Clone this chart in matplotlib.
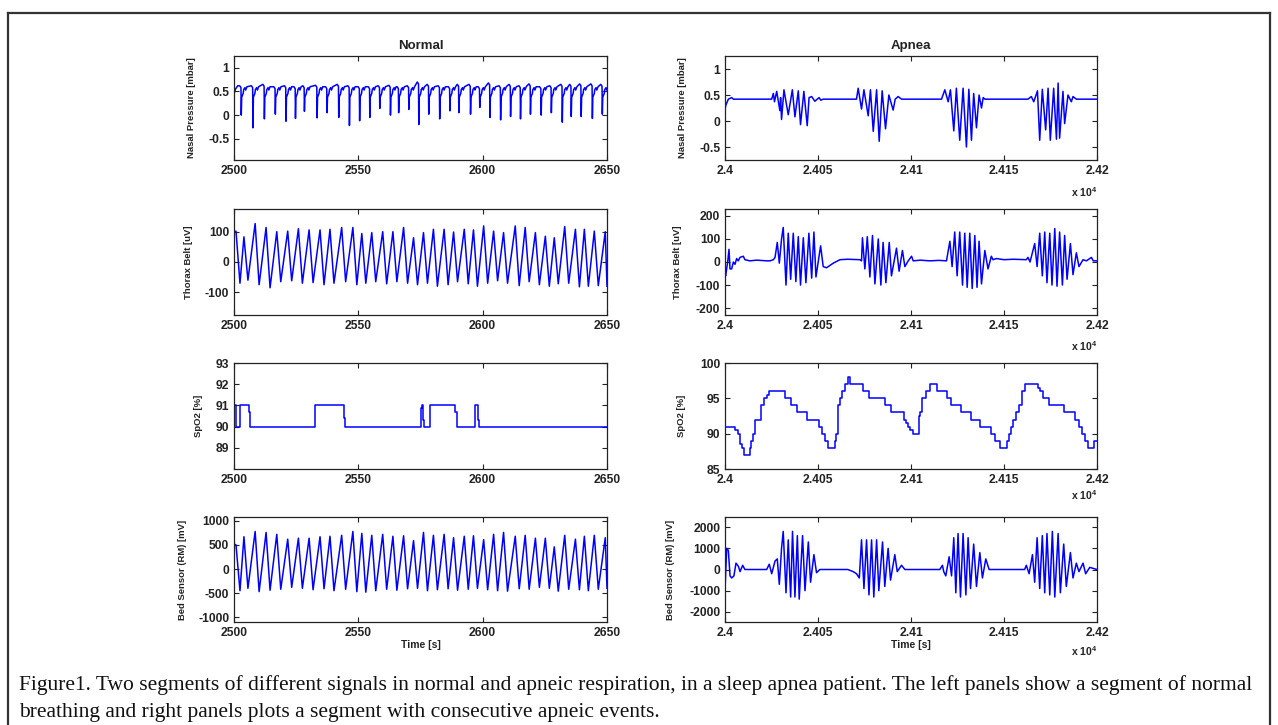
import numpy as np
import matplotlib
matplotlib.use("Agg")
import matplotlib.pyplot as plt
from matplotlib.lines import Line2D

plt.rcParams['axes.unicode_minus'] = False
plt.rcParams['font.family'] = ['Liberation Sans', 'DejaVu Sans']
plt.rcParams['font.weight'] = 'bold'
plt.rcParams['mathtext.default'] = 'regular'

# ---------------- DATA ----------------
col_titles = ["Normal", "Apnea"]
row_ylabels = ["Nasal Pressure [mbar]", "Thorax Belt [uV]", "SpO2 [%]", "Bed Sensor (RM) [mV]"]
xlabel = "Time [s]"
caption_lines = [
    "Figure1. Two segments of different signals in normal and apneic respiration, in a sleep apnea patient. The left panels show a segment of normal",
    "breathing and right panels plots a segment with consecutive apneic events.",
]

normal_xticks = [2500, 2550, 2600, 2650]
normal_xticklabels = ["2500", "2550", "2600", "2650"]
apnea_xticks = [24000, 24050, 24100, 24150, 24200]
apnea_xticklabels = ["2.4", "2.405", "2.41", "2.415", "2.42"]
APNEA_T0 = 24000.0

# --- Normal: nasal pressure (per breath: drop time, trough value, plateau value)
nasal_drop_t = [2502.8, 2507.5, 2512.1, 2516.5, 2520.8, 2524.6, 2528.2, 2533.3, 2537.3, 2542.0,
                2546.3, 2550.4, 2554.5, 2558.5, 2562.8, 2566.1, 2570.2, 2574.2, 2578.2, 2582.6,
                2586.7, 2590.3, 2595.0, 2598.7, 2602.8, 2607.1, 2611.1, 2615.1, 2619.1, 2623.4,
                2627.5, 2631.9, 2635.5, 2639.5, 2644.0, 2648.0]
nasal_trough_v = [0.0, -0.27, -0.08, 0.02, -0.13, -0.07, 0.08, -0.06, 0.05, -0.05,
                  -0.22, -0.12, -0.05, 0.14, 0.0, 0.05, 0.12, -0.2, 0.02, -0.08,
                  0.09, 0.05, 0.02, 0.16, -0.05, -0.1, -0.03, -0.08, 0.02, 0.0,
                  0.05, -0.15, -0.03, -0.03, -0.07, 0.02]
nasal_peak_v = [0.62, 0.62, 0.65, 0.6, 0.62, 0.6, 0.62, 0.63, 0.6, 0.65,
                0.62, 0.6, 0.6, 0.62, 0.63, 0.6, 0.62, 0.7, 0.65, 0.62,
                0.6, 0.65, 0.65, 0.6, 0.68, 0.62, 0.65, 0.62, 0.66, 0.6,
                0.62, 0.65, 0.65, 0.66, 0.66, 0.65]
nasal_start_t = [2500.0, 2500.6, 2501.5]
nasal_start_v = [0.45, 0.55, 0.62]
# within-breath shape (seconds after drop, level)
nasal_cycle_dt = [0.12, 0.3, 0.9, 1.1, 1.6, 1.9, 2.4]
nasal_cycle_v = [None, 0.38, 0.46, 0.54, 0.58, 0.53, 0.60]

# --- Normal: thorax belt and bed sensor share breath timing
normal_peak_t = [2500.8, 2504.0, 2508.5, 2512.9, 2517.2, 2521.6, 2525.9, 2530.2, 2534.6, 2538.6,
                 2543.3, 2547.8, 2551.4, 2555.4, 2559.8, 2563.9, 2568.2, 2572.2, 2576.2, 2580.2,
                 2584.5, 2588.3, 2592.6, 2596.3, 2600.4, 2604.4, 2608.4, 2613.1, 2617.1, 2621.2,
                 2625.2, 2628.8, 2633.0, 2637.3, 2640.9, 2644.9, 2649.3]
normal_trough_t = [2502.4, 2505.6, 2510.1, 2514.5, 2518.8, 2523.2, 2527.5, 2531.8, 2536.2, 2540.2,
                   2544.9, 2549.4, 2553.0, 2557.0, 2561.4, 2565.5, 2569.8, 2573.8, 2577.8, 2581.8,
                   2586.1, 2589.9, 2594.2, 2597.9, 2602.0, 2606.0, 2610.0, 2614.7, 2618.7, 2622.8,
                   2626.8, 2630.4, 2634.6, 2638.9, 2642.5, 2646.5, 2650.0]
thorax_peak_v = [102, 83, 127, 114, 100, 102, 110, 106, 106, 108,
                 114, 114, 94, 97, 100, 100, 114, 80, 97, 108,
                 108, 99, 108, 106, 119, 102, 97, 119, 114, 97,
                 85, 80, 117, 108, 108, 102, 100]
thorax_trough_v = [-70, -60, -75, -85, -65, -62, -70, -68, -75, -70,
                   -65, -75, -70, -65, -72, -65, -70, -75, -70, -80,
                   -75, -65, -72, -80, -70, -62, -70, -78, -65, -75,
                   -80, -72, -70, -82, -80, -78, -80]
bed_peak_v = [500, 670, 780, 760, 720, 620, 640, 640, 670, 680,
              700, 780, 740, 700, 720, 680, 690, 590, 760, 700,
              720, 650, 680, 690, 610, 720, 760, 680, 700, 640,
              640, 460, 700, 620, 680, 700, 650]
bed_trough_v = [-450, -400, -470, -440, -420, -380, -400, -430, -410, -450,
                -420, -470, -480, -450, -420, -440, -410, -400, -450, -430,
                -410, -440, -420, -400, -430, -450, -460, -410, -420, -380,
                -400, -460, -420, -430, -450, -420, -400]
thorax_start_v = 95
bed_start_v = 520

# --- Normal: SpO2 (step change points)
spo2_normal_t = [2500.0, 2500.8, 2502.5, 2506.2, 2506.6, 2532.6, 2544.3, 2544.8, 2575.2, 2575.6,
                 2576.0, 2576.5, 2578.8, 2589.0, 2589.5, 2597.0, 2598.2, 2598.6, 2650.0]
spo2_normal_v = [91, 90, 91, 90.7, 90, 91, 90.4, 90, 90.9, 91,
                 90.3, 90, 91, 90.7, 90, 91, 90.3, 90, 90]

# --- Apnea: nasal pressure (seconds after 24000, value)
nasal_apnea_t = [0, 0.4, 1.8, 3.6, 4.5, 25.1, 26.0, 26.6, 27.8, 29.5, 29.9, 30.4, 31.7, 34.0, 36.2, 37.6,
                 39.4, 40.6, 42.4, 44.2, 45.2, 46.6, 48.3, 50.6, 51.5, 52.8,
                 70.7, 71.6, 73.4, 74.7, 77.0, 78.2, 79.7, 81.5, 82.9, 84.5, 86.3, 88.1, 90.4, 91.5, 93.1, 94.9,
                 116.4, 118.2, 120.0, 121.2, 123.0, 124.4, 126.2, 128.0, 129.8, 131.1, 132.5, 133.7, 135.2,
                 136.6, 137.9, 138.8, 139.7,
                 162.9, 164.7, 166.0, 168.0, 169.2, 170.6, 172.4, 173.7, 174.9, 176.7, 178.2, 179.1, 179.9,
                 181.7, 182.6, 184.4, 186.2, 187.1, 188.9, 200.0]
nasal_apnea_v = [0.22, 0.3, 0.42, 0.45, 0.42, 0.42, 0.53, 0.37, 0.57, 0.2, 0.45, 0.03, 0.6, 0.12, 0.6, 0.08,
                 0.58, -0.07, 0.57, -0.09, 0.45, 0.47, 0.38, 0.45, 0.40, 0.42,
                 0.42, 0.63, 0.23, 0.6, 0.1, 0.6, -0.2, 0.6, -0.39, 0.58, -0.15, 0.5, 0.21, 0.42, 0.47, 0.42,
                 0.42, 0.6, 0.37, 0.6, -0.19, 0.63, -0.37, 0.63, -0.5, 0.61, -0.37, 0.53, -0.13,
                 0.5, 0.25, 0.45, 0.42,
                 0.42, 0.47, 0.37, 0.58, -0.37, 0.61, -0.17, 0.63, -0.37, 0.63, -0.35, 0.73, -0.33,
                 0.57, -0.05, 0.5, 0.37, 0.47, 0.42, 0.42]

# --- Apnea: thorax belt
thorax_apnea_t = [0, 0.36, 1.43, 2.15, 2.69, 3.58, 4.48, 5.37, 6.27, 7.16, 8.06, 9.85, 10.7, 13.4, 17, 22.4,
                  24.2, 26.0, 26.9, 28.1, 29.2, 30.4, 31.3, 32.8, 34.0, 35.3, 36.7, 38.1, 39.4, 40.6, 42.1,
                  43.5, 45.1, 46.6, 47.8, 48.9, 51.4, 52.8, 54.6, 58.2, 61.8, 66, 72.5, 73.4,
                  73.9, 75.2, 76.5, 77.9, 79.3, 80.6, 82.4, 83.8, 85.0, 86.5, 88.3, 89.5, 92.2, 93.6, 95.4,
                  96.7, 98.5, 100.3, 101.2, 105, 110, 115, 119.1,
                  119.4, 120.9, 122.1, 123.5, 124.8, 126.2, 127.7, 128.9, 130.2, 131.6, 132.9, 134.3, 135.5,
                  136.6, 137.9, 139.7, 141.4, 143.2, 144.1, 145.9, 150, 155, 162.0,
                  162.9, 164.0, 166.5, 167.8, 169.2, 170.6, 171.9, 173.1, 174.6, 175.8, 177.3, 178.5, 179.9,
                  181.4, 182.6, 183.9, 185.7, 187.1, 188.9, 190.3, 192.5, 194.3, 197.0, 198.0, 200.0]
thorax_apnea_v = [-50, -60, 0, 55, -30, -30, 0, -10, 15, 5, 20, 25, 10, 5, 8, 5,
                  5, 10, 20, 85, -5, 100, 150, -100, 125, -75, 125, -85, 110, -100, 105,
                  -90, 125, -70, 130, -65, 70, -20, -25, -5, 10, 12, 10, 5,
                  105, -30, 110, -65, 115, -95, 100, -100, 85, -90, 85, -60, 60, -40, 50,
                  -20, 5, 25, 5, 8, 5, 7, 5,
                  20, 90, -20, 130, -60, 130, -100, 125, -110, 125, -115, 115, -110,
                  90, -95, 50, -30, 25, 10, 15, 10, 12, 10,
                  20, 0, 80, -20, 125, -60, 130, -90, 125, -100, 145, -105, 130,
                  -100, 115, -75, 80, -55, 40, -20, 10, 5, 20, 5, 5]

# --- Apnea: SpO2 (step change points)
spo2_apnea_t = [0.0, 5.6, 7.0, 8.2, 9.0, 10.0, 13.3, 14.0, 15.0, 16.0, 19.5, 21.0, 22.5, 23.5, 32.2, 35.5,
                38.8, 44.2, 50.3, 52.0, 53.7, 55.5, 59.0, 59.8, 60.5, 61.0, 62.0, 63.0, 64.5, 66.0, 67.4,
                74.0, 77.3, 86.0, 89.0, 96.0, 97.2, 98.5, 99.5, 101.0, 104.3, 105.0, 105.8, 108.0, 110.0,
                114.0, 119.5, 121.7, 127.0, 132.5, 137.0, 143.0, 145.0, 148.0, 151.5, 152.5, 153.5, 155.0,
                156.5, 158.0, 159.5, 161.5, 168.5, 169.5, 171.0, 174.0, 182.0, 188.0, 190.5, 192.0, 193.5,
                195.0, 198.5, 200.0]
spo2_apnea_v = [91, 90.5, 90, 88.5, 88, 87, 88, 89, 90, 92, 94, 95, 95.5, 96, 95, 94,
                93, 92, 91, 90, 89, 88, 89, 90, 91.5, 94, 95, 96, 97, 98, 97,
                96, 95, 94, 93, 92, 91.5, 91, 90.5, 90, 92.5, 93, 95, 96, 97,
                96, 95, 94, 93, 92, 91, 90, 89, 88, 89, 90, 91, 92,
                93, 94, 96, 97, 96.5, 96, 95, 94, 93, 92, 91, 90, 89,
                88, 89, 89]

# --- Apnea: bed sensor
bed_apnea_t = [0, 0.9, 1.8, 2.7, 3.6, 4.8, 5.9, 7.2, 8.1, 9.5, 10.7, 22.4, 23.8, 25.1, 26.9, 28.1, 29.2,
               30.4, 31.3, 32.8, 34.0, 35.3, 36.3, 37.6, 38.9, 39.9, 41.7, 43.0, 44.8, 46.0, 47.8, 49.2,
               51.0, 66.0, 68.9, 70.7, 72.2, 73.4, 74.7, 76.1, 77.4, 78.8, 80.0, 81.5, 82.7, 84.7, 85.9,
               87.7, 89.0, 91.3, 92.6, 94.9, 96.7, 115.5, 116.9, 117.6, 118.7, 120.5, 121.8, 123.0, 124.1,
               125.3, 126.6, 128.0, 129.5, 130.7, 132.0, 133.7, 135.2, 137.0, 138.4, 140.2, 142.0, 161.1,
               162.0, 163.5, 165.3, 166.5, 167.8, 169.2, 170.6, 171.9, 173.1, 174.6, 176.0, 177.3, 179.1,
               180.3, 182.1, 183.5, 185.7, 187.1, 188.9, 190.3, 192.5, 193.9, 196.1, 200.0]
bed_apnea_v = [-1000, 1000, 900, -300, -400, -300, 300, 150, -100, 200, 0, 0, 250, -200, 400, 500, -700,
               1000, 1800, -1100, 1400, -1300, 1800, -1300, 1600, -1400, 1600, -1000, 1300, -600, 700, -150,
               0, 0, -100, -200, -400, 1400, -900, 1400, -1200, 1400, -1300, 1400, -1000, 1300, -800,
               1000, -500, 700, -100, 200, 0, 0, 200, -100, -300, 600, -300, 1500, -1100,
               1700, -1300, 1700, -1200, 1500, -900, 1200, -800, 800, -400, 500, 0, 0,
               200, -200, 700, -600, 1500, -900, 1600, -1100, 1700, -1200, 1800, -1300, 1700,
               -1100, 1200, -800, 800, -400, 300, -100, 300, -200, 100, 0]

# axis limits / ticks
ylims = [[(-0.95, 1.25), (-0.75, 1.25)],
         [(-175, 175), (-230, 230)],
         [(88, 93), (85, 100)],
         [(-1100, 1080), (-2480, 2480)]]
yticks = [[[-0.5, 0, 0.5, 1], [-0.5, 0, 0.5, 1]],
          [[-100, 0, 100], [-200, -100, 0, 100, 200]],
          [[89, 90, 91, 92, 93], [85, 90, 95, 100]],
          [[-1000, -500, 0, 500, 1000], [-2000, -1000, 0, 1000, 2000]]]

# ---------------- BUILD TRACES ----------------
def nasal_normal():
    t = list(nasal_start_t)
    v = list(nasal_start_v)
    for td, d, p in zip(nasal_drop_t, nasal_trough_v, nasal_peak_v):
        t += [td - 0.5, td]
        v += [p, p - 0.04]
        for dt, lv in zip(nasal_cycle_dt, nasal_cycle_v):
            t.append(td + dt)
            v.append(d if lv is None else lv)
    return t, v

def peaks_troughs(start_v, pk, tr):
    t = [2500.0]
    v = [start_v]
    for tp, vp, tt, vt in zip(normal_peak_t, pk, normal_trough_t, tr):
        t += [tp, tt]
        v += [vp, vt]
    return t, v

traces = [
    [nasal_normal(), ([x + APNEA_T0 for x in nasal_apnea_t], nasal_apnea_v)],
    [peaks_troughs(thorax_start_v, thorax_peak_v, thorax_trough_v),
     ([x + APNEA_T0 for x in thorax_apnea_t], thorax_apnea_v)],
    [(spo2_normal_t, spo2_normal_v), ([x + APNEA_T0 for x in spo2_apnea_t], spo2_apnea_v)],
    [peaks_troughs(bed_start_v, bed_peak_v, bed_trough_v),
     ([x + APNEA_T0 for x in bed_apnea_t], bed_apnea_v)],
]

# ---------------- FIGURE ----------------
W, H = 1278, 725
fig = plt.figure(figsize=(W / 100, H / 100), dpi=100)
fig.patch.set_facecolor('white')

col_x = [(234, 373), (725, 372)]
row_y = [(56, 160), (209, 315), (363, 469), (517, 622)]
ylabel_x = [[-0.102, -0.110, -0.083, -0.126], [-0.102, -0.116, -0.105, -0.134]]
x10_y = [-0.31, -0.29, -0.25, -0.28]

for r in range(4):
    for c in range(2):
        x0, w = col_x[c]
        yt, yb = row_y[r]
        ax = fig.add_axes([x0 / W, 1 - yb / H, w / W, (yb - yt) / H])
        t, v = traces[r][c]
        if r == 2:
            ax.plot(t, v, color='#0000ff', lw=1.1, drawstyle='steps-post')
        else:
            ax.plot(t, v, color='#0000ff', lw=1.1)
        if c == 0:
            ax.set_xlim(2500, 2650)
            ax.set_xticks(normal_xticks)
            ax.set_xticklabels(normal_xticklabels)
        else:
            ax.set_xlim(24000, 24200)
            ax.set_xticks(apnea_xticks)
            ax.set_xticklabels(apnea_xticklabels)
            ax.text(1.0, x10_y[r], r'x 10$^{4}$', transform=ax.transAxes, ha='right', va='center',
                    fontsize=7.5, fontweight='bold', color='#222222')
        ax.set_ylim(*ylims[r][c])
        ax.set_yticks(yticks[r][c])
        ax.set_yticklabels([("%g" % y) for y in yticks[r][c]])
        ax.tick_params(direction='in', top=True, right=True, length=3.5, width=0.8,
                       labelsize=8.7, pad=3.5, colors='#222222')
        for sp in ax.spines.values():
            sp.set_linewidth(0.9)
            sp.set_color('#222222')
        ax.set_ylabel(row_ylabels[r], fontsize=6.8, fontweight='bold', color='#222222')
        ax.yaxis.set_label_coords(ylabel_x[c][r], 0.5)
        if r == 0:
            ax.set_title(col_titles[c], fontsize=9.5, fontweight='bold', pad=5, color='#222222')
        if r == 3:
            ax.text(0.5, -0.22, xlabel, transform=ax.transAxes, ha='center', va='center',
                    fontsize=7.5, fontweight='bold', color='#222222')

# frame around the figure
fx0, fx1, fy = 8 / W, 1270 / W, 1 - 13 / H
fig.add_artist(Line2D([fx0, fx1], [fy, fy], transform=fig.transFigure, color='#333333', lw=1.6))
fig.add_artist(Line2D([fx0, fx0], [0, fy], transform=fig.transFigure, color='#333333', lw=1.6))
fig.add_artist(Line2D([fx1, fx1], [0, fy], transform=fig.transFigure, color='#333333', lw=1.6))

# caption
cap_fs = 15.45
fig.text(19 / W, 1 - 685 / H, caption_lines[0], ha='left', va='center', fontsize=cap_fs,
         family=['Liberation Serif', 'DejaVu Serif'], fontweight='normal', color='#111111')
fig.text(19 / W, 1 - 712 / H, caption_lines[1], ha='left', va='center', fontsize=cap_fs,
         family=['Liberation Serif', 'DejaVu Serif'], fontweight='normal', color='#111111')

fig.savefig('out.png', dpi=100, facecolor='white')
